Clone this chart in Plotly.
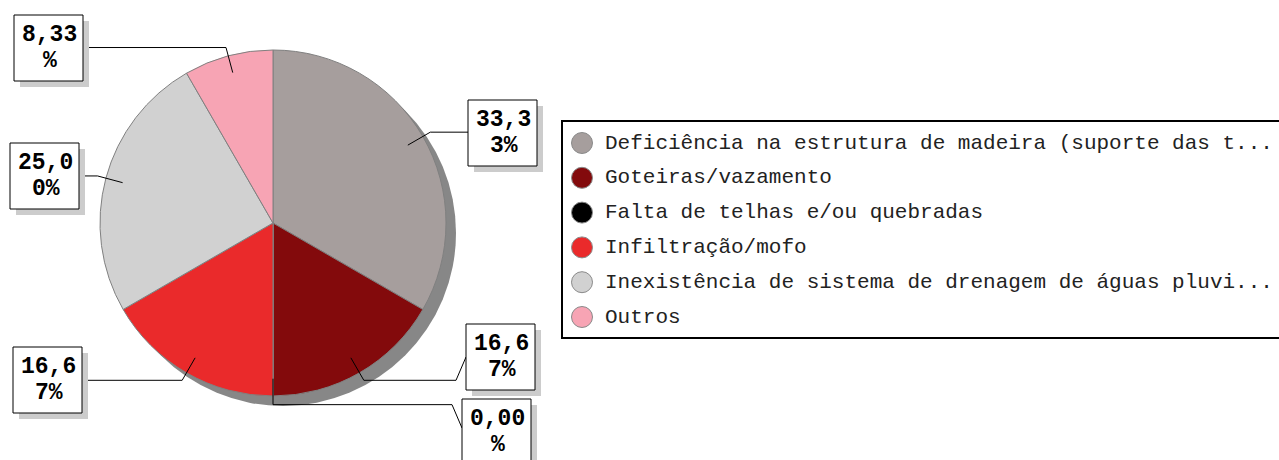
import numpy as np
import plotly.graph_objects as go

W, H = 1279, 460

# ---------------- data ----------------
categories = [
    "Deficiência na estrutura de madeira (suporte das t...",
    "Goteiras/vazamento",
    "Falta de telhas e/ou quebradas",
    "Infiltração/mofo",
    "Inexistência de sistema de drenagem de águas pluvi...",
    "Outros",
]
values = [33.33, 16.67, 0.0, 16.67, 25.0, 8.33]
colors = ["#A69E9D", "#830A0C", "#000000", "#EA2A2B", "#D1D1D1", "#F7A4B4"]

# ---------------- layout constants ----------------
CX, CY, R = 273, 223, 173          # pie centre / radius (px)
SHADOW = 10                         # pie shadow offset (px)
BOX_W, BOX_H = 69, 66
box_left = [468, 466, 462, 13, 10, 14]
box_top = [100, 324, 399, 347, 143, 15]
LEG_X, LEG_Y0, LEG_DY = 582, 143, 34.8

vals = np.array(values, dtype=float)
pct = vals / vals.sum() * 100
labels_txt = [f"{p:.2f}".replace(".", ",") + "%" for p in pct]

fig = go.Figure()

def dom(cx, cy, r):
    return dict(x=[(cx - r) / W, (cx + r) / W], y=[(H - cy - r) / H, (H - cy + r) / H])

# shadow pie
fig.add_trace(go.Pie(values=[vals.sum()], labels=["sombra"], sort=False,
                     marker=dict(colors=["#878787"], line=dict(width=0)),
                     textinfo="none", hoverinfo="skip", showlegend=False,
                     domain=dom(CX + SHADOW, CY + SHADOW, R)))
# main pie
fig.add_trace(go.Pie(values=values, labels=categories, sort=False, direction="clockwise",
                     rotation=0, marker=dict(colors=colors, line=dict(color="#808080", width=1)),
                     textinfo="none", hoverinfo="label+percent", showlegend=False,
                     domain=dom(CX, CY, R)))

shapes = []
annotations = []
cum = np.concatenate([[0], np.cumsum(vals)])[:-1]
mids = (cum + vals / 2) / vals.sum() * 2 * np.pi
for i, a in enumerate(mids):
    sx, sy = CX + 0.9 * R * np.sin(a), CY - 0.9 * R * np.cos(a)
    ex, ey = CX + 1.05 * R * np.sin(a), CY - 1.05 * R * np.cos(a)
    bl, bt = box_left[i], box_top[i]
    bcy = bt + BOX_H / 2
    right = a <= np.pi + 1e-9
    edge = bl if right else bl + BOX_W
    if abs(bcy - ey) < 3:
        path = f"M{sx},{sy} L{ex},{ey} L{edge},{ey}"
    else:
        knee = edge - 10 if right else edge + 10
        path = f"M{sx},{sy} L{ex},{ey} L{knee},{ey} L{edge},{bcy - 4 if right and bcy > ey else bcy}"
    shapes.append(dict(type="path", path=path, xref="x", yref="y",
                       line=dict(color="black", width=1)))
    # box shadow + box
    shapes.append(dict(type="rect", xref="x", yref="y", x0=bl + 6, x1=bl + BOX_W + 6,
                       y0=bt + 6, y1=bt + BOX_H + 6, fillcolor="#CCCCCC", line=dict(width=0)))
    shapes.append(dict(type="rect", xref="x", yref="y", x0=bl, x1=bl + BOX_W,
                       y0=bt, y1=bt + BOX_H, fillcolor="white", line=dict(color="black", width=1)))
    t = labels_txt[i]
    lines = [t[:4], t[4:]]
    for j, ln in enumerate(lines):
        annotations.append(dict(x=bl + BOX_W / 2 + 1, y=bt + 20 + 26 * j, xref="x", yref="y",
                                text=f"<b>{ln}</b>", showarrow=False, xanchor="center",
                                yanchor="middle",
                                font=dict(family="Liberation Mono", size=23, color="black")))

# legend frame
shapes.append(dict(type="rect", xref="x", yref="y", x0=562, x1=1300, y0=121, y1=338,
                   fillcolor="white", line=dict(color="black", width=2), layer="below"))

leg_y = [LEG_Y0 + i * LEG_DY for i in range(len(categories))]
fig.add_trace(go.Scatter(x=[LEG_X] * len(categories), y=leg_y, mode="markers",
                         marker=dict(size=21, color=colors, line=dict(color="#8A8A8A", width=1)),
                         hoverinfo="skip", showlegend=False))
for i, c in enumerate(categories):
    annotations.append(dict(x=603, y=leg_y[i], xref="x", yref="y", text=c, showarrow=False,
                            xanchor="left", yanchor="middle",
                            font=dict(family="Liberation Mono", size=21, color="#222222")))

fig.update_layout(
    width=W, height=H, margin=dict(l=0, r=0, t=0, b=0),
    paper_bgcolor="white", plot_bgcolor="white",
    xaxis=dict(range=[0, W], visible=False, fixedrange=True),
    yaxis=dict(range=[H, 0], visible=False, fixedrange=True),
    shapes=shapes, annotations=annotations, showlegend=False,
)

fig.write_html("out.html", config={"displayModeBar": False},
               post_script="document.body.style.margin='0';document.body.style.overflow='hidden';")
